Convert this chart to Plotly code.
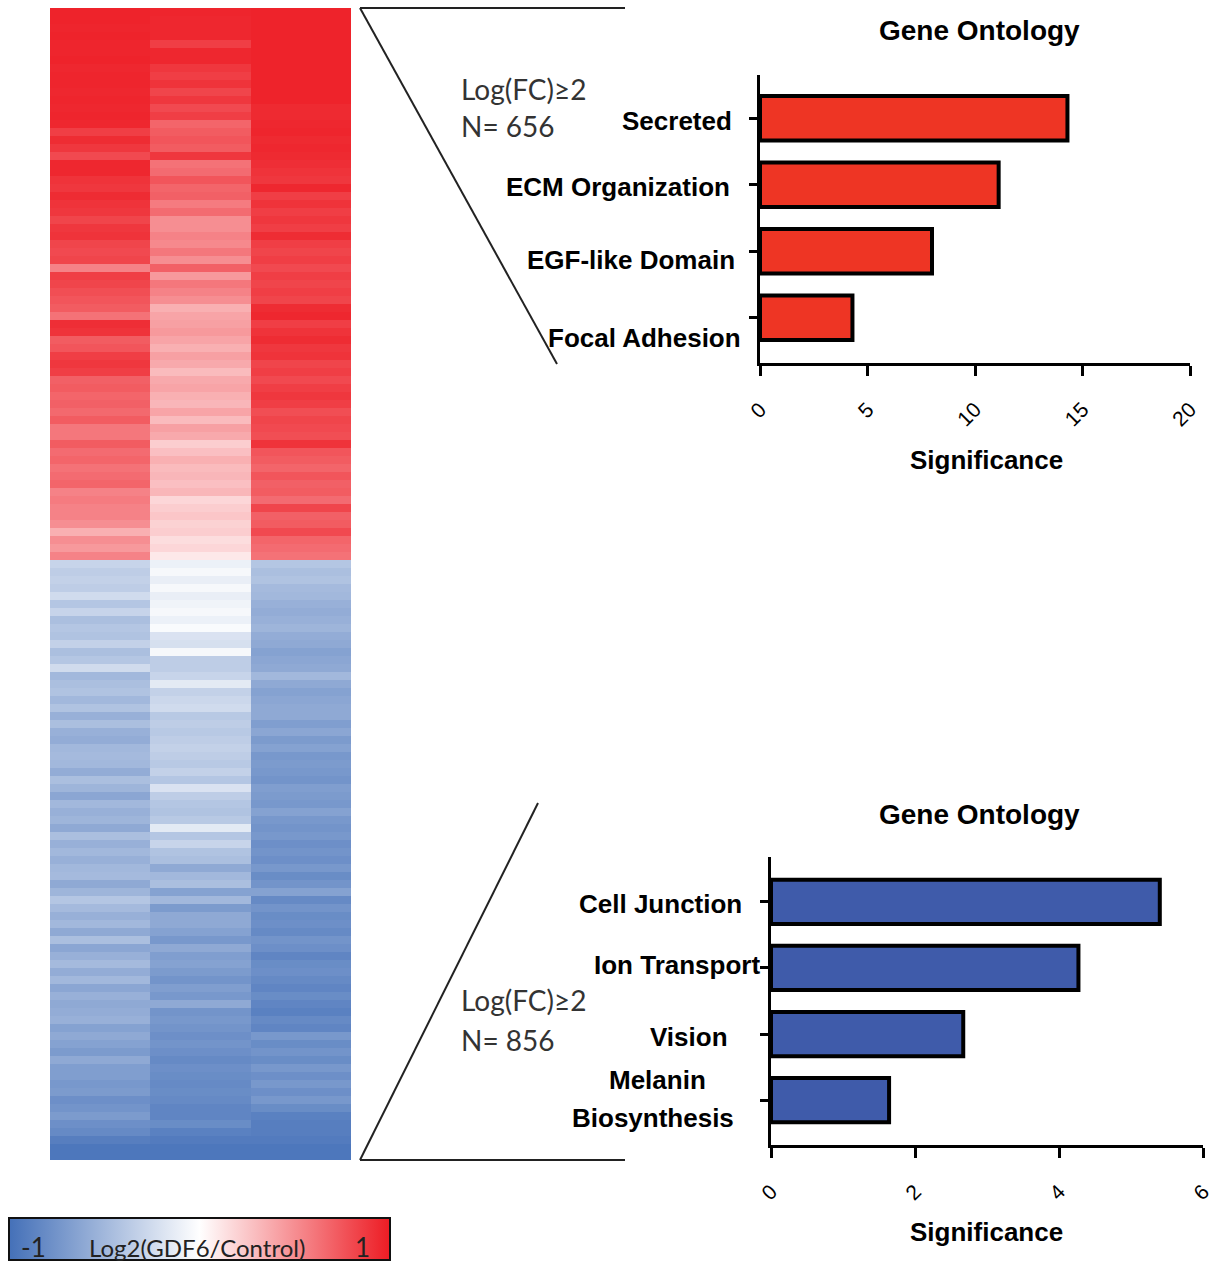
import plotly.graph_objects as go

W, H = 1214, 1262

# ---------------- data ----------------
# Heatmap: log2(GDF6/Control), three samples, rows sorted (up-regulated first)
up_s1 = [0.97, 0.97, 0.96, 0.97, 0.96, 0.96, 0.97, 0.95, 0.96, 0.96, 0.95, 0.96, 0.95, 0.96, 0.95,
         0.85, 0.93, 0.88, 0.80, 0.95, 0.95, 0.90, 0.88, 0.93, 0.90, 0.88, 0.82, 0.88, 0.90, 0.82,
         0.80, 0.82, 0.55, 0.85, 0.82,
         0.78, 0.75, 0.72, 0.62, 0.92, 0.90, 0.72, 0.75, 0.85, 0.88, 0.85, 0.70, 0.72, 0.68, 0.70,
         0.66, 0.72, 0.60, 0.60, 0.72, 0.65, 0.68, 0.62, 0.65, 0.68, 0.55, 0.58, 0.55, 0.55, 0.50,
         0.35, 0.50, 0.45, 0.55]
up_s2 = [0.96, 0.95, 0.95, 0.95, 0.85, 0.95, 0.95, 0.88, 0.85, 0.90, 0.82, 0.88, 0.80, 0.85, 0.68,
         0.72, 0.75, 0.72, 0.88, 0.62, 0.65, 0.75, 0.68, 0.70, 0.58, 0.65, 0.50, 0.50, 0.55, 0.52,
         0.60, 0.50, 0.70, 0.45, 0.60,
         0.55, 0.50, 0.35, 0.40, 0.42, 0.45, 0.40, 0.35, 0.42, 0.38, 0.30, 0.38, 0.40, 0.35, 0.32,
         0.40, 0.30, 0.42, 0.38, 0.22, 0.28, 0.35, 0.30, 0.32, 0.28, 0.32, 0.18, 0.22, 0.25, 0.20,
         0.22, 0.15, 0.18, 0.10]
up_s3 = [0.97, 0.97, 0.97, 0.97, 0.97, 0.97, 0.97, 0.97, 0.97, 0.97, 0.97, 0.97, 0.94, 0.94, 0.95,
         0.96, 0.94, 0.95, 0.94, 0.92, 0.90, 0.88, 0.95, 0.85, 0.90, 0.85, 0.88, 0.85, 0.93, 0.85,
         0.82, 0.85, 0.80, 0.85, 0.82,
         0.85, 0.82, 0.93, 0.95, 0.85, 0.90, 0.93, 0.88, 0.90, 0.82, 0.85, 0.80, 0.85, 0.88, 0.85,
         0.78, 0.82, 0.80, 0.78, 0.90, 0.75, 0.72, 0.68, 0.75, 0.70, 0.72, 0.65, 0.82, 0.70, 0.72,
         0.80, 0.68, 0.65, 0.62]
dn_s1 = [-0.30, -0.35, -0.32, -0.35, -0.25, -0.40, -0.30, -0.45, -0.40, -0.42, -0.32, -0.45,
         -0.40, -0.25, -0.50, -0.45, -0.42, -0.50, -0.42, -0.55, -0.45, -0.55, -0.58, -0.50,
         -0.48, -0.50, -0.58, -0.45, -0.52, -0.62, -0.50, -0.55, -0.52, -0.60, -0.45, -0.55, -0.50,
         -0.55, -0.50, -0.48, -0.60, -0.52, -0.40, -0.48, -0.55, -0.50, -0.60, -0.45, -0.62,
         -0.55, -0.48, -0.58, -0.50, -0.62, -0.55, -0.60, -0.58, -0.55, -0.65, -0.60, -0.65,
         -0.70, -0.60, -0.68, -0.68, -0.72, -0.70, -0.78, -0.75, -0.70, -0.78, -0.82, -0.90,
         -0.95, -0.95]
dn_s2 = [-0.10, -0.05, -0.12, -0.05, -0.12, -0.08, -0.05, -0.10, -0.03, -0.20, -0.22, -0.05,
         -0.35, -0.35, -0.30, -0.15, -0.32, -0.28, -0.25, -0.38, -0.35, -0.38, -0.35, -0.32,
         -0.35, -0.38, -0.32, -0.40, -0.20, -0.35, -0.40, -0.42, -0.38, -0.15, -0.40, -0.30, -0.42,
         -0.45, -0.60, -0.50, -0.45, -0.65, -0.50, -0.70, -0.60, -0.60, -0.65, -0.72, -0.60,
         -0.68, -0.65, -0.70, -0.75, -0.68, -0.72, -0.60, -0.75, -0.72, -0.75, -0.78, -0.75,
         -0.78, -0.82, -0.78, -0.80, -0.82, -0.80, -0.82, -0.85, -0.85, -0.80, -0.88, -0.92,
         -0.95, -0.95]
dn_s3 = [-0.40, -0.45, -0.42, -0.48, -0.50, -0.55, -0.58, -0.55, -0.52, -0.58, -0.60, -0.65,
         -0.62, -0.60, -0.50, -0.60, -0.65, -0.62, -0.60, -0.60, -0.68, -0.62, -0.70, -0.65,
         -0.72, -0.70, -0.72, -0.75, -0.68, -0.70, -0.72, -0.65, -0.72, -0.75, -0.72, -0.78, -0.75,
         -0.78, -0.72, -0.80, -0.75, -0.65, -0.82, -0.75, -0.80, -0.78, -0.82, -0.75, -0.78,
         -0.85, -0.80, -0.78, -0.82, -0.85, -0.80, -0.85, -0.88, -0.82, -0.85, -0.72, -0.80,
         -0.75, -0.80, -0.72, -0.78, -0.72, -0.78, -0.72, -0.80, -0.88, -0.90, -0.90, -0.92,
         -0.95, -0.95]

# Gene ontology enrichment
up_terms = ["Secreted", "ECM Organization", "EGF-like Domain", "Focal Adhesion"]
up_sig = [14.3, 11.1, 8.0, 4.3]
dn_terms = ["Cell Junction", "Ion Transport", "Vision", "Melanin Biosynthesis"]
dn_sig = [5.4, 4.27, 2.67, 1.64]
up_ticks = [0, 5, 10, 15, 20]
dn_ticks = [0, 2, 4, 6]

# ---------------- helpers ----------------
def fx(x):
    return x / W

def fy(y):
    return 1 - y / H

s1 = up_s1 + dn_s1
s2 = up_s2 + dn_s2
s3 = up_s3 + dn_s3
z = [[a, b, c] for a, b, c in zip(s1, s2, s3)]

cscale = [[0, "#4470B8"], [0.5, "#FFFFFF"], [1, "#ED1C24"]]
RED = "#EE3524"
BLUE = "#3F5BAA"
BOLD = "Liberation Sans"
CAL = "Lato"

fig = go.Figure()

fig.add_trace(go.Heatmap(
    z=z, x=[0, 1, 2], y=list(range(len(z))),
    colorscale=cscale, zmin=-1, zmax=1,
    xaxis="x", yaxis="y",
    showscale=True,
    colorbar=dict(
        orientation="h", x=fx(9), xanchor="left", y=0, yanchor="bottom",
        lenmode="pixels", len=381, thicknessmode="pixels", thickness=42,
        xpad=0, ypad=0, outlinewidth=2, outlinecolor="#111",
        showticklabels=False, ticks="",
    ),
    hoverinfo="skip",
))

up_pos = list(range(len(up_terms)))
dn_pos = list(range(len(dn_terms)))

fig.add_trace(go.Bar(
    x=up_sig, y=up_pos, orientation="h", width=0.67,
    marker=dict(color=RED, line=dict(color="black", width=4)),
    xaxis="x2", yaxis="y2", hoverinfo="skip",
))
fig.add_trace(go.Bar(
    x=dn_sig, y=dn_pos, orientation="h", width=0.67,
    marker=dict(color=BLUE, line=dict(color="black", width=4)),
    xaxis="x3", yaxis="y3", hoverinfo="skip",
))

bar_x_common = dict(
    showline=True, linecolor="black", linewidth=3, ticks="outside", ticklen=10,
    tickwidth=3, tickcolor="black", tickangle=-45, showgrid=False, zeroline=False,
    tickfont=dict(family=BOLD, size=21, color="black"), ticklabelstandoff=13,
)
bar_y_common = dict(
    showline=True, linecolor="black", linewidth=3, ticks="outside", ticklen=8,
    tickwidth=3, tickcolor="black", showticklabels=False, showgrid=False,
    zeroline=False,
)

fig.update_layout(
    width=W, height=H, margin=dict(l=0, r=0, t=0, b=0, autoexpand=False),
    paper_bgcolor="white", plot_bgcolor="white", showlegend=False,
    xaxis=dict(domain=[fx(50), fx(351)], range=[-0.5, 2.5], visible=False),
    yaxis=dict(domain=[fy(1160), fy(8)], range=[len(z) - 0.5, -0.5], visible=False),
    xaxis2=dict(domain=[fx(760), fx(1190)], range=[0, 20], tickvals=up_ticks,
                anchor="y2", **bar_x_common),
    yaxis2=dict(domain=[fy(363), fy(75)], range=[3.68, -0.65], tickvals=up_pos,
                anchor="x2", **bar_y_common),
    xaxis3=dict(domain=[fx(771), fx(1203)], range=[0, 6], tickvals=dn_ticks,
                anchor="y3", **bar_x_common),
    yaxis3=dict(domain=[fy(1145), fy(857)], range=[3.68, -0.68], tickvals=dn_pos,
                anchor="x3", **bar_y_common),
)

ann = []

def text(x, y, s, size, family=BOLD, bold=True, xanchor="center", color="black", align="center"):
    ann.append(dict(
        x=fx(x), y=fy(y), xref="paper", yref="paper", text=f"<b>{s}</b>" if bold else s,
        showarrow=False, xanchor=xanchor, yanchor="middle", align=align,
        font=dict(family=family, size=size, color=color),
    ))

# top panel
text(979, 31, "Gene Ontology", 28)
text(986, 460, "Significance", 26)
text(734, 121, up_terms[0], 26, xanchor="right")
text(732, 187, up_terms[1], 26, xanchor="right")
text(737, 260, up_terms[2], 26, xanchor="right")
text(743, 338, up_terms[3], 26, xanchor="right")
text(459, 89, "Log(FC)≥2", 28, family=CAL, bold=False, xanchor="left", color="#333")
text(459, 126, "N= 656", 28, family=CAL, bold=False, xanchor="left", color="#333")

# bottom panel
text(979, 814, "Gene Ontology", 28)
text(986, 1232, "Significance", 26)
text(744, 904, dn_terms[0], 26, xanchor="right")
text(762, 965, dn_terms[1], 26, xanchor="right")
text(730, 1037, dn_terms[2], 26, xanchor="right")
text(657, 1080, "Melanin", 26)
text(653, 1118, "Biosynthesis", 26)
text(459, 1000, "Log(FC)≥2", 28, family=CAL, bold=False, xanchor="left", color="#333")
text(459, 1040, "N= 856", 28, family=CAL, bold=False, xanchor="left", color="#333")

# colour bar labels
text(33, 1247, "-1", 26, family=CAL, bold=False, color="#222")
text(197, 1247, "Log2(GDF6/Control)", 24, family=CAL, bold=False, color="#222")
text(362, 1247, "1", 26, family=CAL, bold=False, color="#222")

fig.update_layout(annotations=ann)

# zoom connector lines
line = dict(color="#222", width=2)
shapes = [
    dict(type="line", xref="paper", yref="paper", x0=fx(360), y0=fy(8), x1=fx(625), y1=fy(8), line=line),
    dict(type="line", xref="paper", yref="paper", x0=fx(360), y0=fy(8), x1=fx(557), y1=fy(364), line=line),
    dict(type="line", xref="paper", yref="paper", x0=fx(538), y0=fy(803), x1=fx(360), y1=fy(1160), line=line),
    dict(type="line", xref="paper", yref="paper", x0=fx(360), y0=fy(1160), x1=fx(625), y1=fy(1160), line=line),
]
fig.update_layout(shapes=shapes)

fig.write_html("out.html")
